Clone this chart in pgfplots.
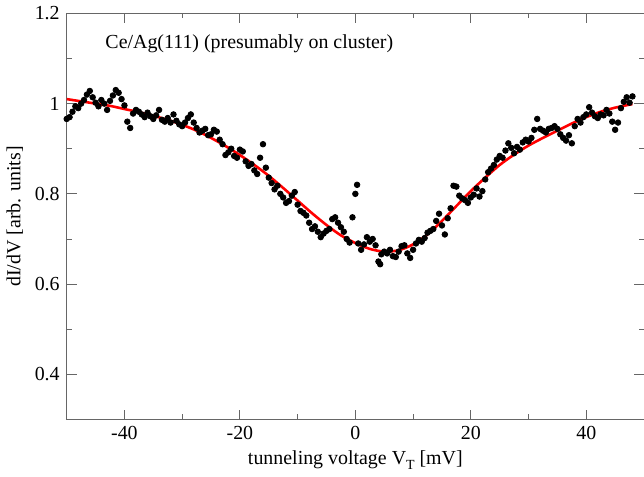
\documentclass[border=0pt]{standalone}
\usepackage{pgfplots}
\pgfplotsset{compat=1.18}
\usepackage{fontspec}
\setmainfont{Liberation Serif}

\pgfplotstableread{
x y
-50.0 0.966
-49.5 0.970
-49.0 0.982
-48.5 0.994
-48.0 0.990
-47.5 1.000
-47.0 1.008
-46.5 1.020
-46.0 1.028
-45.5 1.014
-45.0 1.002
-44.5 0.994
-44.0 1.008
-43.5 1.000
-43.0 0.986
-42.5 1.006
-42.0 1.018
-41.5 1.030
-41.0 1.024
-40.5 1.010
-40.0 0.996
-39.5 0.960
-39.0 0.946
-38.5 0.978
-38.0 0.986
-37.5 0.982
-37.0 0.976
-36.5 0.970
-36.0 0.980
-35.5 0.972
-35.0 0.966
-34.5 0.974
-34.0 0.986
-33.5 0.964
-33.0 0.960
-32.5 0.968
-32.0 0.958
-31.5 0.976
-31.0 0.962
-30.5 0.954
-30.0 0.950
-29.5 0.958
-29.0 0.968
-28.5 0.976
-28.0 0.958
-27.5 0.946
-27.0 0.936
-26.5 0.940
-26.0 0.944
-25.5 0.930
-25.0 0.932
-24.5 0.942
-24.0 0.938
-23.5 0.920
-23.0 0.910
-22.5 0.886
-22.0 0.892
-21.5 0.900
-21.0 0.884
-20.5 0.880
-20.0 0.898
-19.5 0.894
-19.0 0.872
-18.5 0.862
-18.0 0.866
-17.5 0.852
-17.0 0.844
-16.5 0.880
-16.0 0.910
-15.5 0.858
-15.0 0.836
-14.5 0.824
-14.0 0.810
-13.5 0.818
-13.0 0.800
-12.5 0.792
-12.0 0.780
-11.5 0.784
-11.0 0.796
-10.5 0.804
-10.0 0.776
-9.5 0.762
-9.0 0.758
-8.5 0.752
-8.0 0.736
-7.5 0.722
-7.0 0.728
-6.5 0.716
-6.0 0.704
-5.5 0.712
-5.0 0.718
-4.5 0.722
-4.0 0.744
-3.5 0.748
-3.0 0.736
-2.5 0.726
-2.0 0.716
-1.5 0.700
-1.0 0.692
-0.5 0.748
0.0 0.800
0.3 0.820
0.5 0.690
1.0 0.676
1.5 0.688
2.0 0.704
2.5 0.694
3.0 0.700
3.5 0.686
4.0 0.650
4.3 0.644
4.5 0.666
5.0 0.672
5.5 0.668
6.0 0.676
6.5 0.662
7.0 0.660
7.5 0.672
8.0 0.684
8.5 0.686
9.0 0.668
9.5 0.658
10.0 0.676
10.5 0.690
11.0 0.698
11.5 0.694
12.0 0.702
12.5 0.714
13.0 0.718
13.5 0.722
14.0 0.740
14.5 0.756
15.0 0.730
15.5 0.710
16.0 0.746
16.5 0.768
17.0 0.818
17.5 0.816
18.0 0.796
18.5 0.790
19.0 0.786
19.5 0.780
20.0 0.792
20.5 0.798
21.0 0.812
21.5 0.794
22.0 0.806
22.5 0.832
23.0 0.848
23.5 0.856
24.0 0.864
24.5 0.876
25.0 0.884
25.5 0.880
26.0 0.896
26.5 0.912
27.0 0.902
27.5 0.890
28.0 0.904
28.5 0.898
29.0 0.914
29.5 0.920
30.0 0.916
30.5 0.924
31.0 0.942
31.5 0.966
32.0 0.944
32.5 0.940
33.0 0.936
33.5 0.944
34.0 0.946
34.5 0.950
35.0 0.944
35.5 0.932
36.0 0.924
36.5 0.918
37.0 0.930
37.5 0.912
38.0 0.950
38.5 0.966
39.0 0.958
39.5 0.970
40.0 0.976
40.5 0.992
41.0 0.980
41.5 0.972
42.0 0.968
42.5 0.976
43.0 0.974
43.5 0.986
44.0 0.978
44.5 0.960
45.0 0.942
45.5 0.958
46.0 0.990
46.5 1.004
47.0 1.014
47.5 1.002
48.0 1.016
}\measured

\pgfplotstableread{
x y
-50.0 1.010
-47.5 1.005
-45.0 1.000
-42.5 0.995
-40.0 0.988
-37.5 0.981
-35.0 0.973
-32.5 0.964
-30.0 0.953
-27.5 0.940
-25.0 0.924
-22.5 0.906
-20.0 0.886
-17.5 0.864
-15.0 0.840
-12.5 0.813
-10.0 0.785
-7.5 0.757
-5.0 0.731
-2.5 0.708
0.0 0.691
2.5 0.678
5.0 0.672
7.5 0.675
10.0 0.688
12.5 0.710
15.0 0.740
17.5 0.773
20.0 0.806
22.5 0.836
25.0 0.864
27.5 0.887
30.0 0.907
32.5 0.924
35.0 0.940
37.5 0.956
40.0 0.970
42.5 0.982
45.0 0.991
48.0 0.999
}\fit

\begin{document}
\fontsize{20}{24}\selectfont
\begin{tikzpicture}[trim axis right]
\begin{axis}[
    scale only axis,
    width=580pt, height=408pt,
    xmin=-50, xmax=50,
    ymin=0.3, ymax=1.2,
    xtick={-40,-20,0,20,40},
    ytick={0.4,0.6,0.8,1,1.2},
    minor xtick={-30,-10,10,30},
    minor ytick={0.5,0.7,0.9,1.1},
    tick align=inside,
    major tick length=10pt,
    minor tick length=5pt,
    axis line style={black!60},
    tick style={black!60, line width=0.8pt},
    every axis/.append style={line width=0.8pt},
    /pgf/number format/assume math mode=true,
    yticklabel style={/pgf/number format/fixed},
    xlabel={tunneling voltage V\raisebox{-0.55ex}{\fontsize{14}{14}\selectfont T} [mV]},
    ylabel={dI/dV [arb. units]},
    xlabel style={yshift=3pt},
    ylabel style={yshift=-2pt},
    clip=false,
]
\addplot[red, line width=2.6pt, smooth, no marks] table {\fit};
\addplot[only marks, mark=*, mark size=2.8pt, black] table {\measured};
\node[anchor=west] at (axis cs:-44.5,1.132) {Ce/Ag(111) (presumably on cluster)};
\end{axis}
\end{tikzpicture}
\end{document}
